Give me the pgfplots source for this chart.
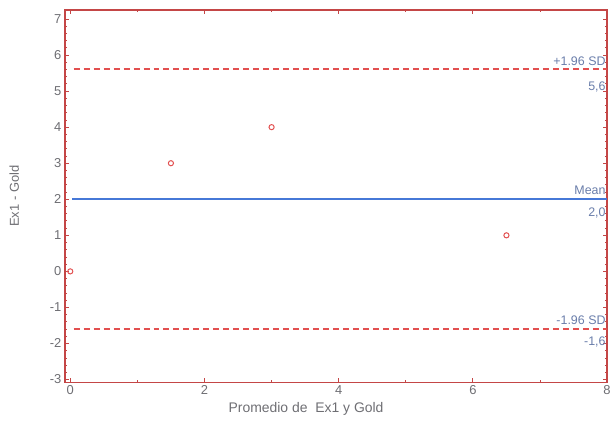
\documentclass[border=0pt]{standalone}
\usepackage{pgfplots}
\pgfplotsset{compat=1.18}
\usepackage{fontspec}
\setmainfont{Liberation Sans}
\definecolor{framered}{RGB}{196,70,70}
\definecolor{sdred}{RGB}{226,80,80}
\definecolor{meanblue}{RGB}{70,120,215}
\definecolor{txt}{RGB}{110,110,115}
\definecolor{lbl}{RGB}{105,125,170}
\begin{document}
\begin{tikzpicture}
\begin{axis}[
  scale only axis,
  width=543bp, height=373bp,
  xmin=-0.08, xmax=8,
  ymin=-3.08, ymax=7.25,
  xtick={0,2,4,6,8},
  ytick={-3,-2,-1,0,1,2,3,4,5,6,7},
  minor y tick num=4,
  minor x tick num=1,
  tick align=inside,
  major tick length=4bp,
  minor tick length=2bp,
  axis line style={framered, line width=1.5pt},
  tick style={framered, line width=0.8pt},
  ticklabel style={font=\fontsize{13}{15}\selectfont, text=txt},
  /pgf/number format/assume math mode=true,
  xlabel={Promedio de\ \ Ex1 y Gold},
  ylabel={Ex1 - Gold},
  xlabel style={font=\fontsize{14}{16}\selectfont, text=txt, xshift=-30bp},
  ylabel style={font=\fontsize{13}{15}\selectfont, text=txt, at={(axis description cs:-0.078,0.5)}},
  clip=false,
]
\addplot[color=sdred, solid, line width=2bp, dash pattern=on 6bp off 4bp] coordinates {(0.05,5.6) (8,5.6)};
\addplot[color=sdred, solid, line width=2bp, dash pattern=on 6bp off 4bp] coordinates {(0.05,-1.6) (8,-1.6)};
\addplot[color=meanblue, solid, line width=2.2bp] coordinates {(0.03,2.0) (8,2.0)};
\addplot[color=sdred, only marks, mark=o, mark size=2.6pt, mark options={line width=1bp}] coordinates {(0,0) (1.5,3) (3,4) (6.5,1)};
\node[anchor=south east, font=\fontsize{12.5}{14}\selectfont, text=lbl, inner sep=0pt, yshift=4bp] at (axis cs:7.98,5.6) {+1.96 SD};
\node[anchor=north east, font=\fontsize{12.5}{14}\selectfont, text=lbl, inner sep=0pt, yshift=-12bp] at (axis cs:7.98,5.6) {5,6};
\node[anchor=south east, font=\fontsize{12.5}{14}\selectfont, text=lbl, inner sep=0pt, yshift=4bp] at (axis cs:7.98,2.0) {Mean};
\node[anchor=north east, font=\fontsize{12.5}{14}\selectfont, text=lbl, inner sep=0pt, yshift=-8bp] at (axis cs:7.98,2.0) {2,0};
\node[anchor=south east, font=\fontsize{12.5}{14}\selectfont, text=lbl, inner sep=0pt, yshift=4bp] at (axis cs:7.98,-1.6) {-1.96 SD};
\node[anchor=north east, font=\fontsize{12.5}{14}\selectfont, text=lbl, inner sep=0pt, yshift=-8bp] at (axis cs:7.98,-1.6) {-1,6};
\end{axis}
\useasboundingbox (-65bp,-53bp) rectangle (549bp,383bp);
\end{tikzpicture}
\end{document}
